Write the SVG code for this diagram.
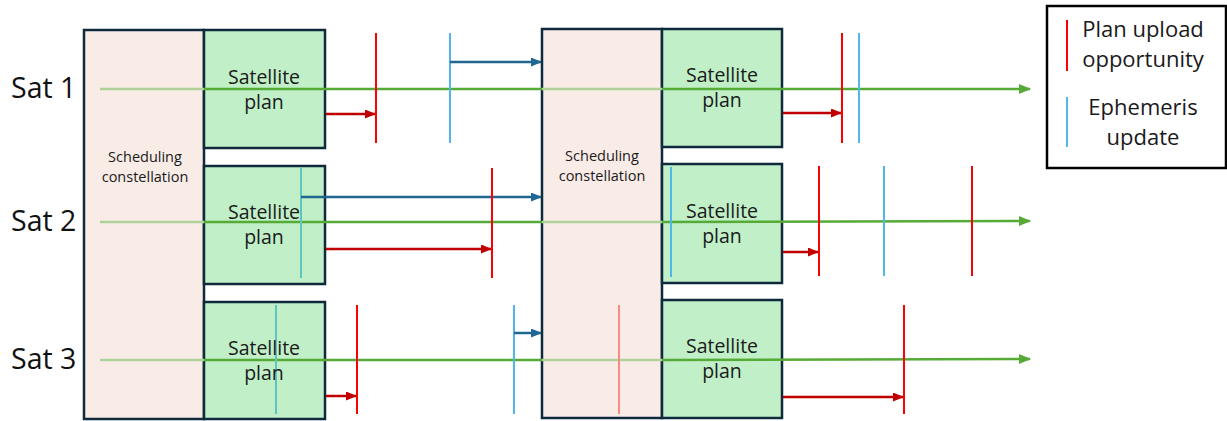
<svg xmlns="http://www.w3.org/2000/svg" width="1227" height="421" viewBox="0 0 1227 421">
  <style>
    .sched { fill: #f9ece7; stroke: #0f2a3c; stroke-width: 2.5; }
    .plan { fill: #c1efc8; stroke: #0f2a3c; stroke-width: 2.5; }
    .txt { font-family: "Open Sans", "Liberation Sans", sans-serif; fill: #1a1a1a; text-anchor: middle; }
    .sat { font-family: "Open Sans", "Liberation Sans", sans-serif; fill: #111; font-size: 28.5px; }
    .tl { stroke: #55ab35; stroke-width: 2.5; fill: none; }
    .tl-faint { stroke: #b0d29a; stroke-width: 2.5; fill: none; }
    .upload { stroke: #ff0000; stroke-width: 2; }
    .upload-faint { stroke: #f98a84; stroke-width: 2; }
    .eph { stroke: #4fb8e6; stroke-width: 2; }
    .eph-dim { stroke: #5ec6c0; stroke-width: 2; }
    .send { stroke: #c00000; stroke-width: 2.5; fill: none; }
    .feed { stroke: #1f6690; stroke-width: 2.5; fill: none; }
  </style>
  <defs>
    <marker id="head-green" markerUnits="userSpaceOnUse" markerWidth="12" markerHeight="10" refX="11" refY="5" orient="auto">
      <path d="M0,0 L12,5 L0,10 Z" fill="#55ab35"/>
    </marker>
    <marker id="head-red" markerUnits="userSpaceOnUse" markerWidth="11" markerHeight="9" refX="10" refY="4.5" orient="auto">
      <path d="M0,0 L11,4.5 L0,9 Z" fill="#c00000"/>
    </marker>
    <marker id="head-blue" markerUnits="userSpaceOnUse" markerWidth="11" markerHeight="9" refX="10" refY="4.5" orient="auto">
      <path d="M0,0 L11,4.5 L0,9 Z" fill="#1f6690"/>
    </marker>
  </defs>

  <!-- satellite row labels -->
  <g id="labels">
    <text class="sat" x="11" y="98">Sat 1</text>
    <text class="sat" x="11" y="231">Sat 2</text>
    <text class="sat" x="11" y="369">Sat 3</text>
  </g>

  <!-- first scheduling round -->
  <g id="sched-1">
    <rect class="sched" x="84" y="30" width="120" height="389"/>
    <text class="txt" font-size="14.5" x="145" y="162">Scheduling</text>
    <text class="txt" font-size="14.5" x="145" y="182">constellation</text>
  </g>
  <g id="plan-1-sat1">
    <rect class="plan" x="204" y="30" width="121" height="118"/>
  </g>
  <g id="plan-1-sat2">
    <rect class="plan" x="204" y="166" width="121" height="118"/>
  </g>
  <g id="plan-1-sat3">
    <rect class="plan" x="204" y="302" width="121" height="117"/>
  </g>

  <!-- second scheduling round -->
  <g id="sched-2">
    <rect class="sched" x="542" y="29" width="120" height="389"/>
    <text class="txt" font-size="14.5" x="602" y="161">Scheduling</text>
    <text class="txt" font-size="14.5" x="602" y="181">constellation</text>
  </g>
  <g id="plan-2-sat1">
    <rect class="plan" x="662" y="29" width="120" height="118"/>
  </g>
  <g id="plan-2-sat2">
    <rect class="plan" x="662" y="164" width="120" height="119"/>
  </g>
  <g id="plan-2-sat3">
    <rect class="plan" x="662" y="300" width="120" height="118"/>
  </g>

  <!-- timelines, events and hand-offs -->
  <g id="connectors">
    <!-- timelines -->
    <line class="tl-faint" x1="100" y1="89" x2="204" y2="89"/>
    <line class="tl" x1="204" y1="89" x2="542" y2="89"/>
    <line class="tl-faint" x1="542" y1="89" x2="662" y2="89"/>
    <line class="tl" x1="662" y1="89" x2="1030" y2="89" marker-end="url(#head-green)"/>

    <line class="tl-faint" x1="100" y1="222" x2="204" y2="222"/>
    <line class="tl" x1="204" y1="222" x2="542" y2="222"/>
    <line class="tl-faint" x1="542" y1="222" x2="662" y2="222"/>
    <line class="tl" x1="662" y1="222" x2="1030" y2="221" marker-end="url(#head-green)"/>

    <line class="tl-faint" x1="100" y1="360" x2="204" y2="360"/>
    <line class="tl" x1="204" y1="360" x2="542" y2="360"/>
    <line class="tl-faint" x1="542" y1="360" x2="662" y2="360"/>
    <line class="tl" x1="662" y1="360" x2="1030" y2="359" marker-end="url(#head-green)"/>

    <!-- Sat 1 events -->
    <line class="send" x1="326" y1="114" x2="375" y2="114" marker-end="url(#head-red)"/>
    <line class="upload" x1="376" y1="33" x2="376" y2="143"/>
    <line class="eph" x1="450" y1="33" x2="450" y2="143"/>
    <line class="feed" x1="450" y1="62" x2="541" y2="62" marker-end="url(#head-blue)"/>
    <line class="send" x1="783" y1="113" x2="841" y2="113" marker-end="url(#head-red)"/>
    <line class="upload" x1="842" y1="33" x2="842" y2="143"/>
    <line class="eph" x1="859" y1="33" x2="859" y2="143"/>

    <!-- Sat 2 events -->
    <line class="eph-dim" x1="301" y1="168" x2="301" y2="278"/>
    <line class="feed" x1="301" y1="197" x2="541" y2="197" marker-end="url(#head-blue)"/>
    <line class="send" x1="326" y1="249" x2="491" y2="249" marker-end="url(#head-red)"/>
    <line class="upload" x1="492" y1="168" x2="492" y2="278"/>
    <line class="eph" x1="671" y1="167" x2="671" y2="277"/>
    <line class="send" x1="783" y1="252" x2="818" y2="252" marker-end="url(#head-red)"/>
    <line class="upload" x1="819" y1="166" x2="819" y2="276"/>
    <line class="eph" x1="884" y1="166" x2="884" y2="276"/>
    <line class="upload" x1="972" y1="166" x2="972" y2="276"/>

    <!-- Sat 3 events -->
    <line class="eph-dim" x1="276" y1="305" x2="276" y2="414"/>
    <line class="send" x1="326" y1="396" x2="356" y2="396" marker-end="url(#head-red)"/>
    <line class="upload" x1="357" y1="305" x2="357" y2="414"/>
    <line class="eph" x1="514" y1="305" x2="514" y2="414"/>
    <line class="feed" x1="514" y1="333" x2="541" y2="333" marker-end="url(#head-blue)"/>
    <line class="upload-faint" x1="619" y1="305" x2="619" y2="414"/>
    <line class="send" x1="783" y1="397" x2="903" y2="397" marker-end="url(#head-red)"/>
    <line class="upload" x1="904" y1="305" x2="904" y2="414"/>
  </g>

  <!-- plan captions drawn above the timelines -->
  <g id="plan-captions">
    <text class="txt" font-size="19.5" x="264" y="84">Satellite</text>
    <text class="txt" font-size="19.5" x="264" y="109">plan</text>
    <text class="txt" font-size="19.5" x="264" y="219">Satellite</text>
    <text class="txt" font-size="19.5" x="264" y="244">plan</text>
    <text class="txt" font-size="19.5" x="264" y="355">Satellite</text>
    <text class="txt" font-size="19.5" x="264" y="380">plan</text>
    <text class="txt" font-size="19.5" x="722" y="82">Satellite</text>
    <text class="txt" font-size="19.5" x="722" y="107">plan</text>
    <text class="txt" font-size="19.5" x="722" y="218">Satellite</text>
    <text class="txt" font-size="19.5" x="722" y="243">plan</text>
    <text class="txt" font-size="19.5" x="722" y="353">Satellite</text>
    <text class="txt" font-size="19.5" x="722" y="378">plan</text>
  </g>

  <!-- legend -->
  <g id="legend">
    <rect x="1047" y="6" width="179" height="162" fill="#ffffff" stroke="#000000" stroke-width="2.5"/>
    <line class="upload" x1="1067" y1="20" x2="1067" y2="71"/>
    <text class="txt" font-size="22" x="1143" y="37">Plan upload</text>
    <text class="txt" font-size="22" x="1143" y="67">opportunity</text>
    <line class="eph" x1="1067" y1="97" x2="1067" y2="147"/>
    <text class="txt" font-size="22" x="1143" y="115">Ephemeris</text>
    <text class="txt" font-size="22" x="1143" y="145">update</text>
  </g>
</svg>
